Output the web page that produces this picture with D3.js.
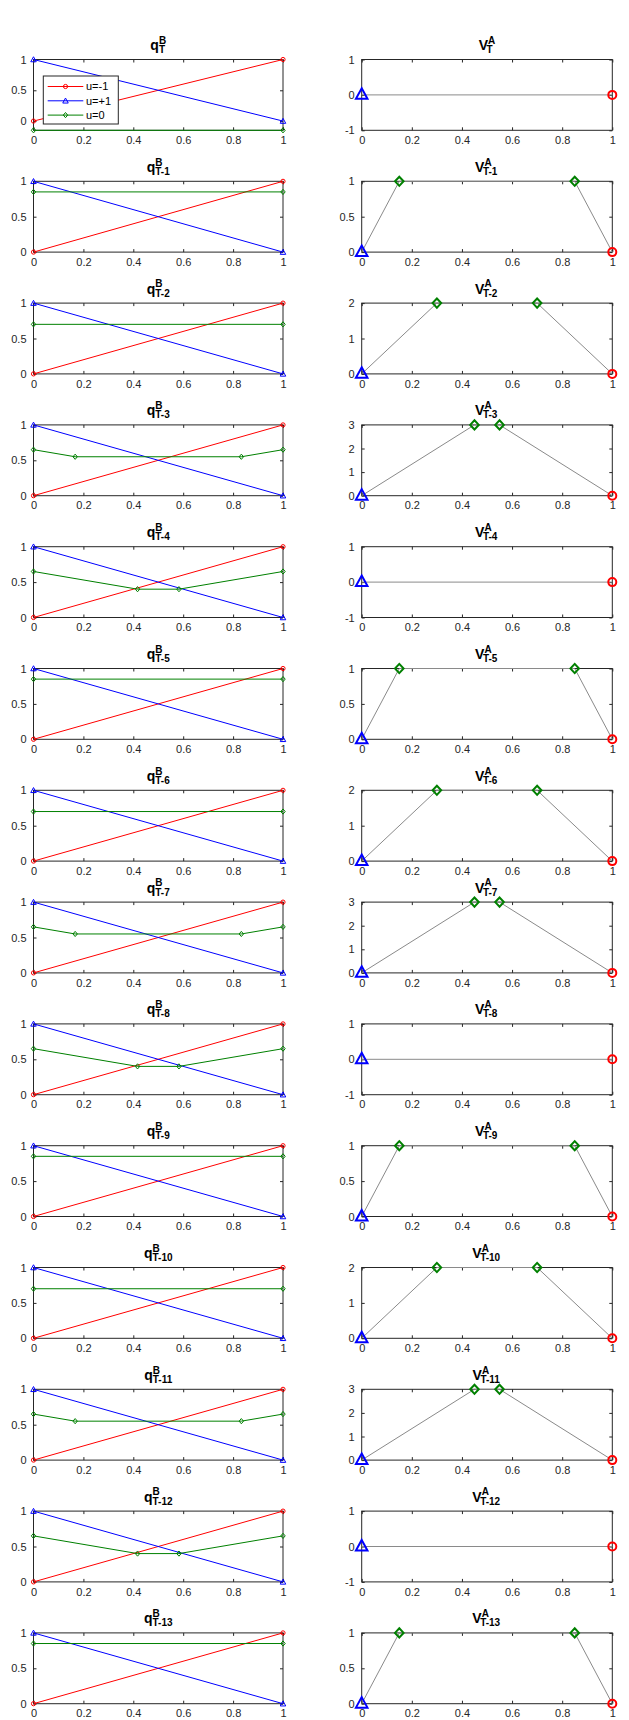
<!DOCTYPE html>
<html>
<head>
<meta charset="utf-8">
<script src="https://cdn.jsdelivr.net/npm/d3@7"></script>
<style>
  body { margin: 0; background: #fff; }
  svg { display: block; }
  text { font-family: "Liberation Sans", Arial, Helvetica, sans-serif; }
</style>
</head>
<body>
<svg id="chart" width="629" height="1720"></svg>
<script>
// subscripts of each row, top to bottom
const periods = ["T", "T-1", "T-2", "T-3", "T-4", "T-5", "T-6", "T-7", "T-8", "T-9", "T-10", "T-11", "T-12", "T-13"];
const xTicks = [0, 0.2, 0.4, 0.6, 0.8, 1];

// left column: q^B for each action
const legendLabels = ["u=-1", "u=+1", "u=0"];
const redX = [0, 1];
const redY = [0, 1];
const blueX = [0, 1];
const blueY = [1, 0];
const greenX = [
    [0, 1], [0, 1], [0, 1], [0, 0.167, 0.833, 1], [0, 0.417, 0.583, 1],
    [0, 1], [0, 1], [0, 0.167, 0.833, 1], [0, 0.417, 0.583, 1],
    [0, 1], [0, 1], [0, 0.167, 0.833, 1], [0, 0.417, 0.583, 1],
    [0, 1]
];
const greenY = [
    [-0.15, -0.15], [0.85, 0.85], [0.7, 0.7], [0.65, 0.55, 0.55, 0.65], [0.65, 0.4, 0.4, 0.65],
    [0.85, 0.85], [0.7, 0.7], [0.65, 0.55, 0.55, 0.65], [0.65, 0.4, 0.4, 0.65],
    [0.85, 0.85], [0.7, 0.7], [0.65, 0.55, 0.55, 0.65], [0.65, 0.4, 0.4, 0.65],
    [0.85, 0.85]
];
const qYDomain = [
    [-0.15, 1], [0, 1], [0, 1], [0, 1], [0, 1], [0, 1], [0, 1],
    [0, 1], [0, 1], [0, 1], [0, 1], [0, 1], [0, 1], [0, 1]
];
const qYTicks = [0, 0.5, 1];

// right column: V^A
const vX = [
    [0, 1], [0, 0.15, 0.85, 1], [0, 0.3, 0.7, 1], [0, 0.45, 0.55, 1],
    [0, 1], [0, 0.15, 0.85, 1], [0, 0.3, 0.7, 1], [0, 0.45, 0.55, 1],
    [0, 1], [0, 0.15, 0.85, 1], [0, 0.3, 0.7, 1], [0, 0.45, 0.55, 1],
    [0, 1], [0, 0.15, 0.85, 1]
];
const vY = [
    [0, 0], [0, 1, 1, 0], [0, 2, 2, 0], [0, 3, 3, 0],
    [0, 0], [0, 1, 1, 0], [0, 2, 2, 0], [0, 3, 3, 0],
    [0, 0], [0, 1, 1, 0], [0, 2, 2, 0], [0, 3, 3, 0],
    [0, 0], [0, 1, 1, 0]
];
const vYDomain = [
    [-1, 1], [0, 1], [0, 2], [0, 3],
    [-1, 1], [0, 1], [0, 2], [0, 3],
    [-1, 1], [0, 1], [0, 2], [0, 3],
    [-1, 1], [0, 1]
];
const vYTicks = [
    [-1, 0, 1], [0, 0.5, 1], [0, 1, 2], [0, 1, 2, 3],
    [-1, 0, 1], [0, 0.5, 1], [0, 1, 2], [0, 1, 2, 3],
    [-1, 0, 1], [0, 0.5, 1], [0, 1, 2], [0, 1, 2, 3],
    [-1, 0, 1], [0, 0.5, 1]
];

const RED = "#ff0000", BLUE = "#0000ff", GREEN = "#008000", AXIS = "#262626";

// layout (matlab subplot positions)
const leftX = [33.5, 283];
const rightX = [361.7, 612.3];
const boxH = 70.8;
function rowTop(k) {
    // rows below T-6 sit a bit higher
    return 59.5 + k * 121.8 - (k >= 7 ? 10 : 0);
}

const svg = d3.select("#chart");

// marker shapes
function triangle(s) {
    return `M0,${-s * 0.55}L${s * 0.55},${s * 0.45}L${-s * 0.55},${s * 0.45}Z`;
}
function diamond(w, h) {
    return `M0,${-h}L${w},0L0,${h}L${-w},0Z`;
}

function drawMarker(g, kind, x, y, color, big) {
    let sw = big ? 2 : 1;
    if (kind == "o") {
        g.append("circle").attr("cx", x).attr("cy", y).attr("r", big ? 4 : 2.1)
            .attr("fill", "none").attr("stroke", color).attr("stroke-width", sw);
    } else if (kind == "^") {
        g.append("path").attr("d", triangle(big ? 10.5 : 5)).attr("transform", `translate(${x},${y - (big ? 0.8 : 0)})`)
            .attr("fill", "none").attr("stroke", color).attr("stroke-width", sw).attr("stroke-linejoin", "miter");
    } else {
        g.append("path").attr("d", big ? diamond(4.3, 4.6) : diamond(2.2, 2.6)).attr("transform", `translate(${x},${y})`)
            .attr("fill", "none").attr("stroke", color).attr("stroke-width", sw);
    }
}

// title like q^B_{T-1}: main letter, superscript and subscript stacked
function drawTitle(cx, top, main, sup, sub) {
    let t = svg.append("g");
    let m = t.append("text").attr("font-size", 14).attr("font-weight", "bold").attr("fill", "#000").text(main);
    let mw = m.node().getComputedTextLength();
    let s1 = t.append("text").attr("x", mw).attr("y", -6.2).attr("font-size", 10).attr("font-weight", "bold").text(sup);
    let s2 = t.append("text").attr("x", mw - (main == "V" ? 1.5 : 0)).attr("y", 3).attr("font-size", 10).attr("font-weight", "bold").text(sub);
    let w = mw + Math.max(s1.node().getComputedTextLength(), s2.node().getComputedTextLength());
    t.attr("transform", `translate(${cx - w / 2},${top - 9.5})`);
}

// axes box with inside ticks on all four sides
function drawAxes(x, y, yTicks) {
    let g = svg.append("g");
    let [x0, x1] = x.range();
    let [y1, y0] = y.range();
    let fmt = d => String(d);

    g.append("rect").attr("x", x0).attr("y", y0).attr("width", x1 - x0).attr("height", y1 - y0)
        .attr("fill", "#fff").attr("stroke", AXIS).attr("stroke-width", 1);

    let bottom = d3.axisBottom(x).tickValues(xTicks).tickFormat(fmt).tickSizeInner(-3).tickSizeOuter(0).tickPadding(6);
    let top = d3.axisTop(x).tickValues(xTicks).tickFormat("").tickSizeInner(-3).tickSizeOuter(0);
    let left = d3.axisLeft(y).tickValues(yTicks).tickFormat(fmt).tickSizeInner(-3).tickSizeOuter(0).tickPadding(7);
    let right = d3.axisRight(y).tickValues(yTicks).tickFormat("").tickSizeInner(-3).tickSizeOuter(0);

    [[bottom, `translate(0,${y1})`], [top, `translate(0,${y0})`], [left, `translate(${x0},0)`], [right, `translate(${x1},0)`]]
        .forEach(([ax, tr]) => {
            let a = g.append("g").attr("transform", tr).call(ax);
            a.select(".domain").remove();
            a.selectAll("line").attr("stroke", AXIS);
            a.selectAll("text").attr("fill", AXIS).attr("font-size", 11).attr("font-family", null);
        });
    return g;
}

const line = d3.line();

periods.forEach((p, k) => {
    let top = rowTop(k);

    // ----- left: q^B -----
    let xq = d3.scaleLinear().domain([0, 1]).range(leftX);
    let yq = d3.scaleLinear().domain(qYDomain[k]).range([top + boxH, top]);
    drawAxes(xq, yq, qYTicks);
    drawTitle((leftX[0] + leftX[1]) / 2, top, "q", "B", p);

    let series = [
        {xs: redX, ys: redY, color: RED, mark: "o"},
        {xs: blueX, ys: blueY, color: BLUE, mark: "^"},
        {xs: greenX[k], ys: greenY[k], color: GREEN, mark: "d"}
    ];
    let gq = svg.append("g");
    series.forEach(s => {
        let pts = s.xs.map((v, i) => [xq(v), yq(s.ys[i])]);
        gq.append("path").attr("d", line(pts)).attr("fill", "none").attr("stroke", s.color).attr("stroke-width", 1);
        pts.forEach(pt => drawMarker(gq, s.mark, pt[0], pt[1], s.color, false));
    });

    // legend only on the first panel
    if (k == 0) {
        let lg = svg.append("g");
        lg.append("rect").attr("x", 43.3).attr("y", 76).attr("width", 75).attr("height", 48)
            .attr("fill", "#fff").attr("stroke", AXIS).attr("stroke-width", 1);
        series.forEach((s, i) => {
            let ly = 86.5 + i * 14.3;
            lg.append("line").attr("x1", 47.7).attr("x2", 83.3).attr("y1", ly).attr("y2", ly)
                .attr("stroke", s.color).attr("stroke-width", 1);
            drawMarker(lg, s.mark, 65.5, ly, s.color, false);
            lg.append("text").attr("x", 86).attr("y", ly).attr("dy", "0.35em")
                .attr("font-size", 11).attr("fill", "#000").text(legendLabels[i]);
        });
    }

    // ----- right: V^A -----
    let xv = d3.scaleLinear().domain([0, 1]).range(rightX);
    let yv = d3.scaleLinear().domain(vYDomain[k]).range([top + boxH, top]);
    drawAxes(xv, yv, vYTicks[k]);
    drawTitle((rightX[0] + rightX[1]) / 2, top, "V", "A", p);

    let gv = svg.append("g");
    let vpts = vX[k].map((v, i) => [xv(v), yv(vY[k][i])]);
    gv.append("path").attr("d", line(vpts)).attr("fill", "none").attr("stroke", "#8a8a8a").attr("stroke-width", 1);
    vpts.forEach((pt, i) => {
        if (i == 0) {
            drawMarker(gv, "^", pt[0], pt[1], BLUE, true);
        } else if (i == vpts.length - 1) {
            drawMarker(gv, "o", pt[0], pt[1], RED, true);
        } else {
            drawMarker(gv, "d", pt[0], pt[1], GREEN, true);
        }
    });
});
</script>
</body>
</html>
